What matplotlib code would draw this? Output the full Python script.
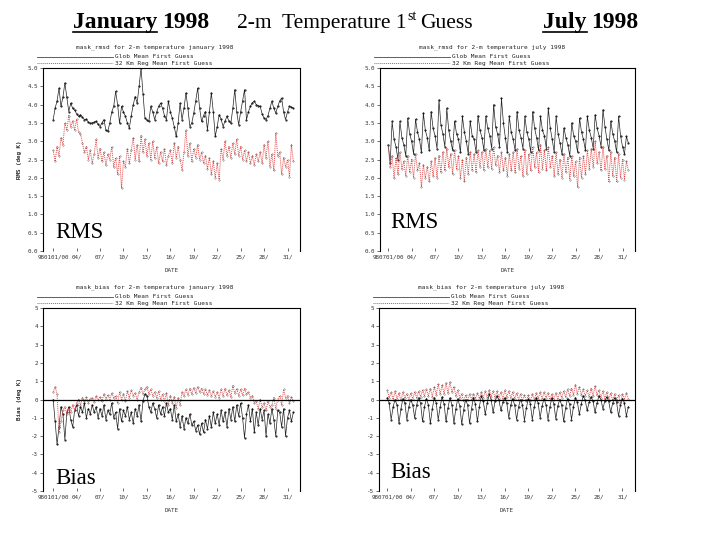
import matplotlib
matplotlib.use("Agg")
import matplotlib.pyplot as plt
from matplotlib.lines import Line2D
import numpy as np

W, H = 720, 540

# 6-hourly samples (00, 06, 12, 18 UTC), one row per day, 31 days
jan_rms_glob = [
    3.59, 3.90, 4.10, 4.45,  3.95, 4.20, 4.59, 4.20,  3.81, 4.04, 3.90, 3.85,
    3.75, 3.68, 3.72, 3.65,  3.59, 3.60, 3.52, 3.49,  3.50, 3.52, 3.54, 3.46,
    3.40, 3.50, 3.59, 3.30,  3.27, 3.50, 3.80, 3.95,  4.36, 4.00, 3.49, 3.95,
    3.80, 3.68, 3.50, 3.36,  3.70, 4.00, 4.22, 4.04,  4.50, 5.00, 4.30, 3.63,
    3.58, 3.54, 3.95, 3.80,  3.59, 3.80, 3.95, 4.04,  3.90, 3.70, 3.59, 4.09,
    3.80, 3.63, 3.40, 3.13,  3.50, 4.04, 3.59, 3.90,  4.32, 3.90, 3.40, 3.50,
    3.77, 4.10, 4.45, 3.90,  3.54, 3.70, 3.81, 3.31,  3.80, 4.32, 3.80, 3.13,
    3.40, 3.72, 3.60, 3.40,  3.55, 3.68, 3.55, 3.49,  3.90, 4.41, 3.80, 3.45,
    3.80, 4.10, 4.41, 3.59,  3.80, 3.95, 4.05, 4.09,  4.00, 3.97, 3.95, 3.75,
    3.63, 3.59, 3.70, 3.90,  4.09, 3.90, 3.77, 3.95,  4.10, 4.18, 3.80, 3.59,
    3.80, 3.95, 3.93, 3.90,
]
jan_rms_reg = [
    2.75, 2.45, 2.85, 2.60,  3.10, 2.90, 3.50, 3.30,  3.70, 3.40, 3.55, 3.30,
    3.60, 3.25, 3.20, 2.95,  2.70, 2.85, 2.50, 2.75,  2.40, 2.65, 3.05, 2.55,
    2.80, 2.45, 2.70, 2.35,  2.65, 2.50, 2.85, 2.30,  2.55, 2.10, 2.60, 1.72,
    2.45, 2.30, 2.80, 2.40,  2.75, 3.10, 2.50, 2.90,  2.45, 3.15, 2.70, 3.05,
    2.60, 2.95, 2.50, 3.00,  2.55, 2.85, 2.40, 2.70,  2.45, 2.80, 2.35, 2.60,
    2.75, 2.40, 2.95, 2.55,  2.85, 2.50, 2.22, 2.70,  3.30, 2.60, 2.95, 2.45,
    2.80, 2.55, 2.90, 2.50,  2.70, 2.40, 2.60, 2.25,  2.55, 2.10, 2.45, 2.00,
    2.40, 1.95, 2.80, 2.50,  3.00, 2.60, 2.85, 2.55,  2.95, 2.65, 3.05, 2.60,
    2.85, 2.50, 2.75, 2.45,  2.70, 2.40, 2.60, 2.35,  2.65, 2.45, 2.70, 2.40,
    2.90, 2.55, 3.00, 2.30,  2.65, 2.20, 3.22, 2.60,  2.70, 2.10, 2.55, 2.30,
    2.50, 2.03, 2.90, 2.45,
]
jan_bias_glob = [
    0.00, -1.20, -2.45, -1.50,  -0.40, -0.80, -2.20, -0.70,  -0.40, -1.10, -1.50, -0.60,
    -0.30, -0.90, -0.40, -0.70,  -0.20, -1.00, -0.50, -0.80,  -0.30, -0.70, -0.40, -1.00,
    -0.50, -0.90, -0.30, -1.10,  -0.60, -0.80, -0.20, -1.00,  -0.70, -1.60, -0.50, -1.20,
    -0.60, -0.90, -0.40, -1.10,  -0.70, -1.30, -0.50, -0.90,  -0.30, -1.20, -0.10, 0.30,
    0.20, -0.40, -0.70, -0.20,  -0.50, -1.00, -0.30, -0.80,  -0.40, -0.90, -0.20, -0.70,
    -0.50, -1.10, -0.30, -1.20,  -0.80, -1.50, -0.90, -1.60,  -1.00, -1.30, -0.80, -1.40,
    -1.20, -1.70, -1.40, -1.90,  -1.30, -1.80, -1.10, -1.60,  -0.90, -1.50, -0.70, -1.30,
    -0.80, -1.40, -0.60, -1.20,  -0.70, -1.50, -0.50, -1.10,  -0.40, -1.20, -0.30, -0.90,
    -0.20, -1.00, -2.10, -0.80,  -0.30, -1.20, -0.50, -1.80,  -0.70, -1.40, -0.50, -1.10,
    -0.60, -2.00, -0.80, -1.30,  -0.50, -1.10, -2.00, -0.60,  -0.70, -1.50, -0.50, -2.00,
    -1.00, -0.60, -1.20, -0.70,
]
jan_bias_reg = [
    0.40, 0.70, 0.30, -1.80,  -1.20, -0.60, -0.40, -0.80,  -0.50, -0.70, -0.30, -0.60,
    -0.20, 0.00, -0.30, 0.10,  -0.10, 0.15, -0.20, 0.05,  0.10, -0.15, 0.20, -0.05,
    0.15, -0.10, 0.30, 0.05,  0.25, 0.00, 0.35, 0.10,  0.20, -0.20, 0.40, 0.00,
    0.30, -0.10, 0.45, 0.10,  0.50, 0.20, 0.35, 0.00,  0.40, 0.65, 0.30, 0.55,
    0.70, 0.30, 0.55, 0.20,  0.40, 0.10, 0.45, 0.00,  0.30, -0.10, 0.35, -0.30,
    0.20, -0.20, 0.15, -0.45,  0.10, -0.30, 0.40, 0.20,  0.55, 0.25, 0.60, 0.30,
    0.65, 0.35, 0.70, 0.40,  0.60, 0.30, 0.55, 0.25,  0.50, 0.20, 0.45, 0.15,
    0.40, 0.10, 0.55, 0.20,  0.60, 0.25, 0.50, 0.15,  0.75, 0.35, 0.60, 0.20,
    0.55, 0.25, 0.60, 0.30,  0.40, 0.10, 0.20, -0.20,  -0.10, -0.50, 0.00, -0.40,
    -0.20, -0.60, -0.10, -0.40,  -0.30, 0.10, -0.50, 0.00,  0.20, -0.30, 0.55, 0.10,
    0.20, -0.20, 0.15, -0.10,
]
jul_rms_glob = [
    2.90, 2.40, 3.54, 3.05,  2.85, 2.50, 3.54, 3.10,  2.90, 2.60, 3.63, 3.20,
    3.00, 2.65, 3.60, 3.25,  3.05, 2.70, 3.77, 3.30,  3.10, 2.75, 3.81, 3.35,
    3.15, 2.80, 4.13, 3.45,  3.20, 2.85, 3.90, 3.30,  3.00, 2.75, 3.55, 3.20,
    3.05, 2.70, 3.68, 3.25,  3.00, 2.65, 3.55, 3.15,  3.05, 2.70, 3.70, 3.30,
    3.10, 2.75, 3.68, 3.35,  3.15, 2.80, 4.00, 3.40,  3.20, 2.85, 4.18, 3.50,
    3.10, 2.70, 3.68, 3.25,  3.05, 2.75, 3.81, 3.30,  3.10, 2.80, 3.68, 3.25,
    3.05, 2.70, 3.81, 3.35,  3.10, 2.75, 3.68, 3.30,  3.15, 2.80, 3.90, 3.35,
    3.05, 2.70, 3.68, 3.20,  2.95, 2.65, 3.36, 3.10,  2.90, 2.60, 3.50, 3.15,
    3.00, 2.70, 3.63, 3.25,  3.05, 2.75, 3.68, 3.30,  3.10, 2.80, 3.72, 3.35,
    3.15, 2.85, 3.86, 3.40,  3.05, 2.75, 3.55, 3.20,  3.00, 2.70, 3.68, 3.15,
    2.85, 2.65, 3.13, 2.95,
]
jul_rms_reg = [
    2.90, 2.30, 2.60, 2.00,  2.55, 2.10, 2.70, 2.25,  2.45, 2.05, 2.60, 2.15,
    2.50, 2.00, 2.65, 2.20,  2.40, 1.75, 2.35, 2.00,  2.30, 1.90, 2.45, 2.05,
    2.55, 2.00, 2.60, 2.15,  2.70, 2.20, 2.80, 2.30,  2.65, 2.10, 2.75, 2.25,
    2.60, 2.00, 2.50, 1.90,  2.55, 2.10, 2.70, 2.20,  2.65, 2.15, 2.75, 2.30,
    2.70, 2.20, 2.80, 2.30,  2.75, 2.25, 2.85, 2.35,  2.60, 2.15, 2.70, 2.20,
    2.55, 2.05, 2.65, 2.20,  2.70, 2.15, 2.80, 2.25,  2.60, 2.05, 2.75, 2.10,
    2.65, 2.20, 2.85, 2.30,  2.70, 2.15, 2.90, 2.25,  2.75, 2.20, 2.85, 2.30,
    2.60, 2.05, 2.70, 2.10,  2.50, 2.00, 2.65, 2.15,  2.55, 1.95, 2.60, 2.05,
    2.45, 1.75, 2.55, 2.00,  2.60, 2.10, 2.75, 2.25,  2.80, 2.30, 3.00, 2.40,
    2.70, 2.20, 2.85, 2.25,  2.60, 1.90, 2.70, 2.05,  2.55, 1.90, 2.65, 2.00,
    2.50, 1.95, 2.45, 2.20,
]
jul_bias_glob = [
    0.10, -0.20, -1.10, -0.40,  0.00, -0.30, -1.30, -0.50,  0.05, -0.20, -1.10, -0.40,
    0.00, -0.30, -1.00, -0.30,  0.10, -0.20, -1.20, -0.40,  0.05, -0.30, -1.30, -0.50,
    0.10, -0.20, -1.10, -0.40,  0.15, -0.25, -1.20, -0.45,  0.10, -0.30, -1.30, -0.50,
    0.05, -0.35, -1.35, -0.55,  0.00, -0.30, -1.30, -0.50,  0.10, -0.25, -1.20, -0.40,
    0.20, -0.10, -0.80, -0.20,  0.30, 0.00, -0.70, -0.10,  0.20, -0.05, -0.60, -0.15,
    0.10, -0.20, -1.00, -0.30,  0.05, -0.30, -1.10, -0.40,  0.00, -0.30, -1.15, -0.45,
    0.05, -0.25, -1.10, -0.40,  0.10, -0.20, -1.00, -0.35,  0.05, -0.30, -1.10, -0.40,
    0.10, -0.25, -1.05, -0.35,  0.00, -0.30, -1.20, -0.45,  0.05, -0.25, -1.10, -0.40,
    0.10, -0.15, -0.80, -0.25,  0.20, -0.05, -0.60, -0.15,  0.15, -0.10, -0.70, -0.20,
    0.20, 0.00, -0.50, -0.10,  0.15, -0.10, -0.70, -0.20,  0.10, -0.15, -0.90, -0.30,
    0.05, -0.20, -0.90, -0.40,
]
jul_bias_reg = [
    0.50, 0.10, 0.40, 0.00,  0.45, 0.05, 0.35, -0.05,  0.40, 0.10, 0.30, 0.00,
    0.35, 0.05, 0.40, 0.10,  0.45, 0.15, 0.50, 0.20,  0.55, 0.20, 0.60, 0.15,
    0.70, 0.25, 0.85, 0.30,  0.80, 0.30, 0.90, 0.35,  0.95, 0.40, 0.70, 0.20,
    0.50, 0.10, 0.30, -0.10,  0.25, -0.05, 0.30, 0.00,  0.30, 0.05, 0.35, 0.05,
    0.40, 0.10, 0.45, 0.10,  0.50, 0.15, 0.45, 0.10,  0.45, 0.10, 0.40, 0.05,
    0.50, 0.15, 0.45, 0.10,  0.40, 0.05, 0.35, 0.00,  0.30, -0.05, 0.25, -0.10,
    0.25, -0.10, 0.30, 0.00,  0.35, 0.05, 0.40, 0.05,  0.40, 0.10, 0.35, 0.00,
    0.30, 0.00, 0.35, 0.05,  0.40, 0.10, 0.45, 0.15,  0.55, 0.20, 0.60, 0.25,
    0.80, 0.30, 0.70, 0.25,  0.55, 0.20, 0.50, 0.15,  0.60, 0.20, 0.75, 0.25,
    0.50, 0.10, 0.45, 0.05,  0.40, 0.00, 0.35, -0.05,  0.30, -0.10, 0.25, -0.20,
    0.30, 0.00, 0.35, 0.05,
]

tick_days = [1, 4, 7, 10, 13, 16, 19, 22, 25, 28, 31]
jan_tick_labels = ["980101/00", "04/", "07/", "10/", "13/", "16/", "19/", "22/", "25/", "28/", "31/"]
jul_tick_labels = ["980701/00", "04/", "07/", "10/", "13/", "16/", "19/", "22/", "25/", "28/", "31/"]
rms_ticks = [0.0, 0.5, 1.0, 1.5, 2.0, 2.5, 3.0, 3.5, 4.0, 4.5, 5.0]
bias_ticks = [-5, -4, -3, -2, -1, 0, 1, 2, 3, 4, 5]

legend_glob = "Glob Mean First Guess"
legend_reg = "32 Km Reg Mean First Guess"

RED = "#e24a4a"
MONO = "DejaVu Sans Mono"
SERIF = "Liberation Serif"


def fx(x):
    return x / W


def fy(y):
    return 1 - y / H


fig = plt.figure(figsize=(W / 100, H / 100), dpi=100)
fig.patch.set_facecolor("white")

# left, top, right, bottom of each plot box, in pixels
panels = [
    dict(box=(43, 68, 300, 251), glob=jan_rms_glob, reg=jan_rms_reg, kind="rms",
         labels=jan_tick_labels, xlim=(-0.3, 32.6),
         title="mask_rmsd for 2-m temperature january 1998", big="RMS", big_xy=(55, 233)),
    dict(box=(380, 68, 635, 251), glob=jul_rms_glob, reg=jul_rms_reg, kind="rms",
         labels=jul_tick_labels, xlim=(-0.05, 32.6),
         title="mask_rmsd for 2-m temperature july 1998", big="RMS", big_xy=(390, 222)),
    dict(box=(43, 308, 300, 491), glob=jan_bias_glob, reg=jan_bias_reg, kind="bias",
         labels=jan_tick_labels, xlim=(-0.3, 32.6),
         title="mask_bias for 2-m temperature january 1998", big="Bias", big_xy=(55, 478)),
    dict(box=(379, 308, 635, 491), glob=jul_bias_glob, reg=jul_bias_reg, kind="bias",
         labels=jul_tick_labels, xlim=(-0.05, 32.6),
         title="mask_bias for 2-m temperature july 1998", big="Bias", big_xy=(390, 473)),
]

for p in panels:
    l, t, r, b = p["box"]
    ax = fig.add_axes([fx(l), fy(b), (r - l) / W, (b - t) / H])
    days = 1 + np.arange(len(p["glob"])) * 0.25

    ax.plot(days, p["glob"], color="#222222", lw=0.5, marker=".", ms=1.0, mec="black")
    ax.plot(days, p["reg"], color=RED, lw=0.7, ls=(0, (1, 1)), marker="o", ms=1.0,
            mfc="none", mec="#555555", mew=0.3)

    if p["kind"] == "rms":
        ax.set_ylim(0, 5)
        ax.set_yticks(rms_ticks)
        ax.set_yticklabels(["%.1f" % v for v in rms_ticks])
        ylab = "RMS (deg K)"
    else:
        ax.set_ylim(-5, 5)
        ax.set_yticks(bias_ticks)
        ax.set_yticklabels([str(v) for v in bias_ticks])
        ax.axhline(0, color="black", lw=0.9)
        ylab = "Bias (deg K)"

    ax.set_xlim(*p["xlim"])
    ax.set_xticks(tick_days)
    ax.set_xticklabels(p["labels"])
    ax.tick_params(axis="y", direction="out", length=2, width=0.5, pad=1.5,
                   labelsize=4.2, colors="#333333")
    ax.tick_params(axis="x", direction="in", length=2, width=0.5, pad=2.5,
                   labelsize=4.2, colors="#333333")
    for lab in ax.get_xticklabels() + ax.get_yticklabels():
        lab.set_family(MONO)
    for side in ["left", "top", "right"]:
        ax.spines[side].set_linewidth(0.8)
    ax.spines["bottom"].set_visible(False)
    ax.set_xlabel("DATE", fontsize=4.2, family=MONO, color="#333333", labelpad=6)

    fig.text(fx(19), fy((t + b) / 2), ylab, rotation=90, fontsize=4.2, family=MONO,
             color="#333333", ha="center", va="center")

    # title and legend above the box, as in the original plots
    fig.text(fx(l + 112), fy(t - 21), p["title"], fontsize=4.4, family=MONO,
             ha="center", va="center", color="#222222")
    fig.add_artist(Line2D([fx(l - 6), fx(l + 70)], [fy(t - 11), fy(t - 11)],
                          color="#444444", lw=0.6))
    fig.add_artist(Line2D([fx(l - 6), fx(l + 70)], [fy(t - 5), fy(t - 5)],
                          color=RED, lw=0.7, ls=(0, (1, 1))))
    fig.text(fx(l + 72), fy(t - 11), legend_glob, fontsize=4.4, family=MONO,
             ha="left", va="center", color="#222222")
    fig.text(fx(l + 72), fy(t - 5), legend_reg, fontsize=4.4, family=MONO,
             ha="left", va="center", color="#222222")

    bx, by = p["big_xy"]
    fig.text(fx(bx), fy(by), p["big"], fontsize=16.5, family=SERIF,
             ha="left", va="center")

# header line
fig.canvas.draw()
renderer = fig.canvas.get_renderer()
base = fy(28)


def right_edge(txt):
    bb = txt.get_window_extent(renderer)
    return bb.x0 / W, bb.x1 / W


t_jan = fig.text(fx(73), base, "January", fontsize=17, family=SERIF, weight="bold", va="baseline")
x0, x1 = right_edge(t_jan)
fig.add_artist(Line2D([x0, x1], [fy(32), fy(32)], color="black", lw=1.2))
fig.text(x1 + fx(5), base, "1998", fontsize=17, family=SERIF, weight="bold", va="baseline")

t_mid = fig.text(fx(237), base, "2-m  Temperature 1", fontsize=15.5, family=SERIF, va="baseline")
x0, x1 = right_edge(t_mid)
t_st = fig.text(x1 + fx(0.5), fy(20), "st", fontsize=10, family=SERIF, va="baseline")
x0, x1 = right_edge(t_st)
fig.text(x1 + fx(4), base, "Guess", fontsize=15.5, family=SERIF, va="baseline")

t_jul = fig.text(fx(543), base, "July", fontsize=17, family=SERIF, weight="bold", va="baseline")
x0, x1 = right_edge(t_jul)
fig.add_artist(Line2D([x0, x1], [fy(32), fy(32)], color="black", lw=1.2))
fig.text(x1 + fx(5), base, "1998", fontsize=17, family=SERIF, weight="bold", va="baseline")

fig.savefig("out.png", dpi=100, facecolor="white")
